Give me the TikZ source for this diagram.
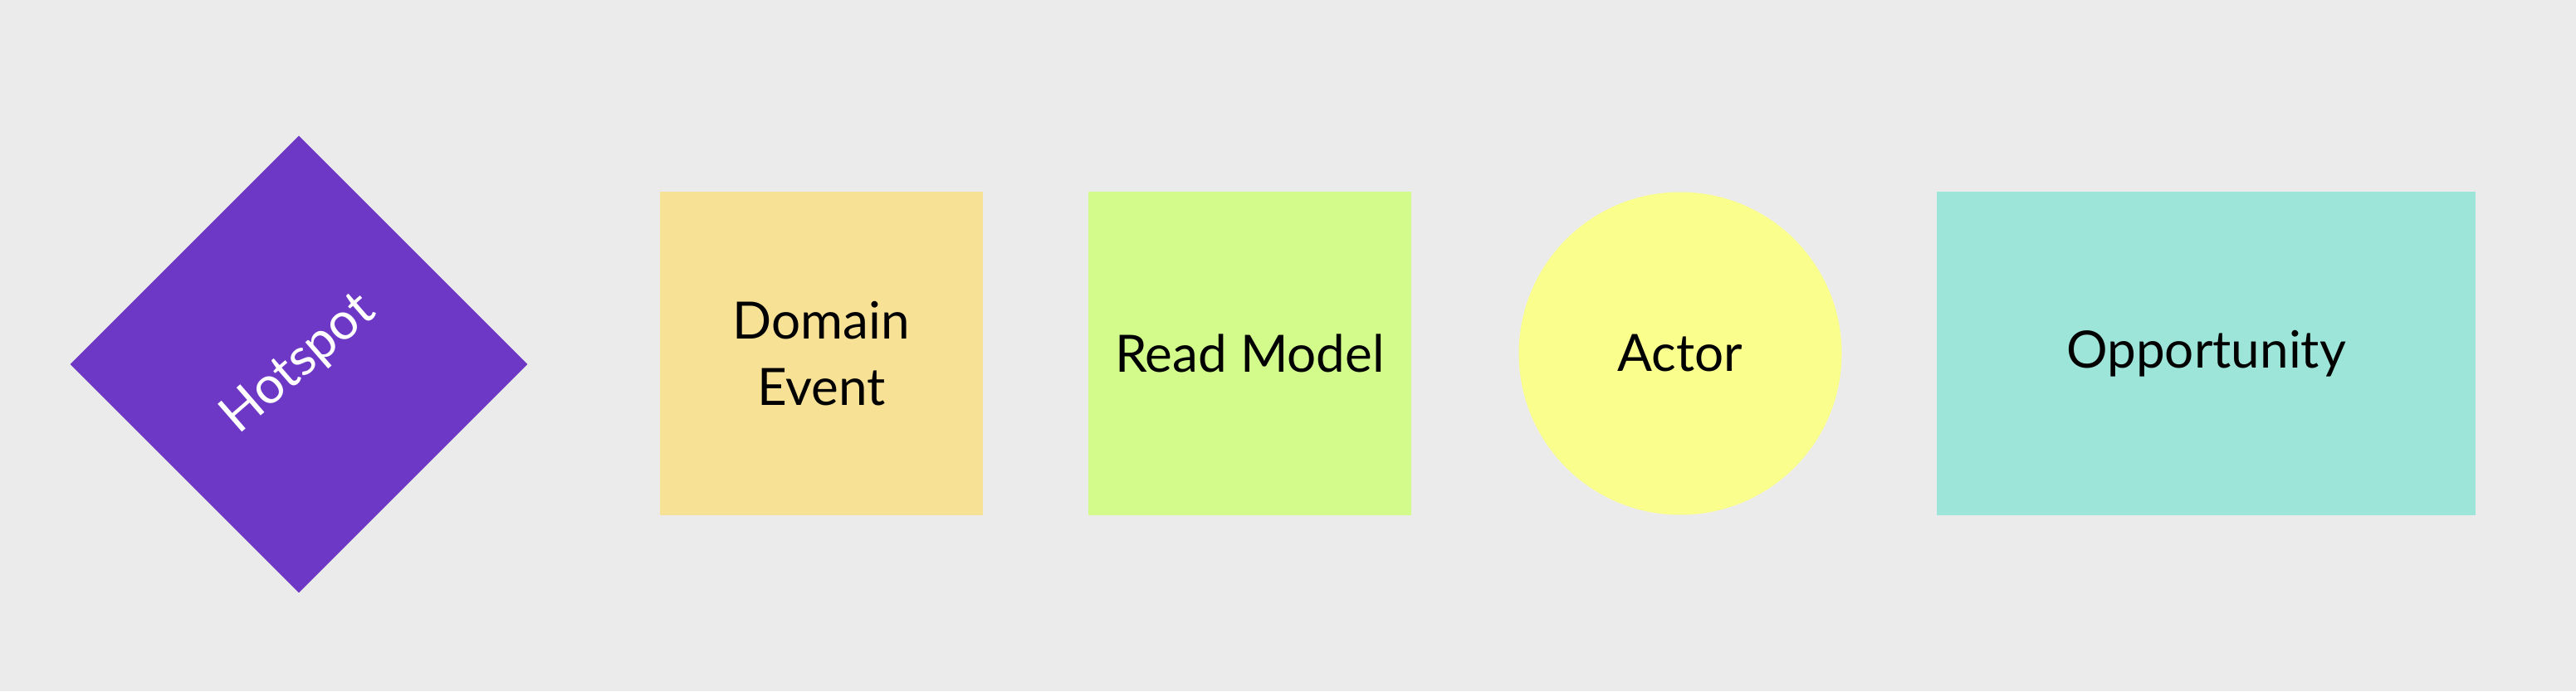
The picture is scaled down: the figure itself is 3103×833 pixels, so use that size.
\documentclass[tikz,border=0pt]{standalone}
\usepackage{fontspec}
\setmainfont{Lato}
\usetikzlibrary{shapes.geometric}
\definecolor{bgc}{RGB}{235,235,235}
\definecolor{hotc}{RGB}{110,56,198}
\definecolor{evc}{RGB}{247,225,148}
\definecolor{rmc}{RGB}{210,251,140}
\definecolor{acc}{RGB}{250,254,140}
\definecolor{opc}{RGB}{157,228,217}
\tikzset{
  lbl/.style={font=\fontsize{62}{80}\selectfont, text=black, align=center, inner sep=0pt},
  sticky/.style={draw=none, inner sep=0pt, anchor=center}
}
\begin{document}
\begin{tikzpicture}[x=1pt,y=-1pt]
\fill[bgc] (0,0) rectangle (3103,833);
\useasboundingbox (0,0) rectangle (3103,833);
\node[sticky, diamond, fill=hotc, minimum width=551pt, minimum height=551pt] (hot) at (360,439) {};
\node[lbl, text=white, rotate=41] (hottext) at (hot.center) {Hotspot};
\node[sticky, rectangle, fill=evc, minimum width=389pt, minimum height=390pt] (ev) at (989.5,426) {};
\node[lbl] (evtext) at (ev.center) {Domain\\Event};
\node[sticky, rectangle, fill=rmc, minimum width=389pt, minimum height=390pt] (rm) at (1505.5,426) {};
\node[lbl] (rmtext) at (rm.center) {Read Model};
\node[sticky, circle, fill=acc, minimum size=389pt] (ac) at (2024,426) {};
\node[lbl] (actext) at (ac.center) {Actor};
\node[sticky, rectangle, fill=opc, minimum width=649pt, minimum height=390pt] (op) at (2657.5,426) {};
\node[lbl] (optext) at (op.center) {Opportunity};
\end{tikzpicture}
\end{document}
